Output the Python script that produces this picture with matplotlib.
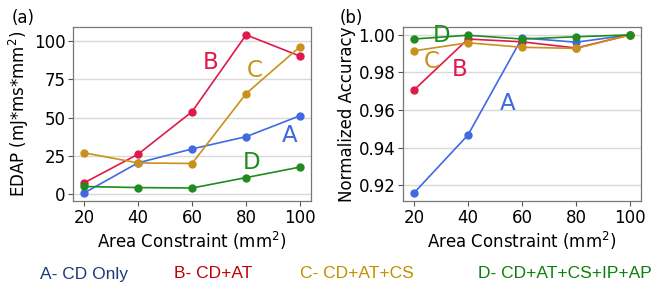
import matplotlib
matplotlib.use("Agg")
import matplotlib.pyplot as plt

# Area constraints (mm^2)
area = [20, 40, 60, 80, 100]

# EDAP values per configuration
edap_a = [0.7, 20.4, 29.5, 37.5, 51.2]
edap_b = [7.3, 26.0, 53.8, 103.9, 90.0]
edap_c = [27.0, 20.4, 20.0, 65.6, 96.3]
edap_d = [5.0, 4.3, 4.0, 10.8, 17.7]

# Normalized accuracy per configuration
acc_a = [0.9158, 0.9467, 0.9984, 0.9961, 1.0]
acc_b = [0.9706, 0.9978, 0.9963, 0.9930, 1.0]
acc_c = [0.9915, 0.9958, 0.9934, 0.9928, 1.0]
acc_d = [0.9978, 0.9998, 0.9978, 0.9990, 1.0]

labels = ["A", "B", "C", "D"]
legend_text = ["A- CD Only", "B- CD+AT", "C- CD+AT+CS", "D- CD+AT+CS+IP+AP"]

line_colors = ["#4169E1", "#E0194A", "#C8921A", "#1E8C1E"]
text_colors = ["#1F3A78", "#C00000", "#BF9000", "#0A800A"]

fig = plt.figure(figsize=(6.64, 2.98), dpi=100)
ax1 = fig.add_axes([0.110, 0.3255, 0.3584, 0.584])
ax2 = fig.add_axes([0.607, 0.3255, 0.3584, 0.584])

for ax in (ax1, ax2):
    ax.grid(axis="y", color="#d9d9d9", linewidth=1.0)
    ax.set_axisbelow(True)
    for s in ax.spines.values():
        s.set_color("#777777")
        s.set_linewidth(0.9)
    ax.tick_params(labelsize=12, length=3.5, color="#555555", pad=2)
    ax.set_xticks(area)
    ax.set_xlabel("Area Constraint (mm$^2$)", fontsize=12, labelpad=2)

edap = [edap_a, edap_b, edap_c, edap_d]
acc = [acc_a, acc_b, acc_c, acc_d]
for i in range(4):
    ax1.plot(area, edap[i], color=line_colors[i], marker="o", markersize=5, linewidth=1.2)
    ax2.plot(area, acc[i], color=line_colors[i], marker="o", markersize=5, linewidth=1.2)

ax1.set_yticks([0, 25, 50, 75, 100])
ax1.set_ylabel("EDAP (mJ*ms*mm$^2$)", fontsize=12, labelpad=2)
ax2.set_yticks([0.92, 0.94, 0.96, 0.98, 1.00])
ax2.set_yticklabels(["0.92", "0.94", "0.96", "0.98", "1.00"])
ax2.set_ylabel("Normalized Accuracy", fontsize=12, labelpad=2)

# series letters inside the panels
pos1 = [(96, 38), (67, 86), (83, 80.5), (82, 20.5)]
pos2 = [(54.7, 0.9633), (37, 0.9818), (26.7, 0.9857), (30.2, 0.9995)]
for i in range(4):
    ax1.text(pos1[i][0], pos1[i][1], labels[i], color=line_colors[i], fontsize=16.5,
             ha="center", va="center")
    ax2.text(pos2[i][0], pos2[i][1], labels[i], color=line_colors[i], fontsize=16.5,
             ha="center", va="center")

fig.text(12 / 664, 1 - 18 / 298, "(a)", fontsize=12, va="center")
fig.text(340 / 664, 1 - 18 / 298, "(b)", fontsize=12, va="center")

xs = [40, 174, 300, 478]
for i in range(4):
    fig.text(xs[i] / 664, 1 - 274 / 298, legend_text[i], color=text_colors[i],
             fontsize=12.5, family="Liberation Sans", va="center", ha="left")

fig.savefig("out.png", dpi=100)
